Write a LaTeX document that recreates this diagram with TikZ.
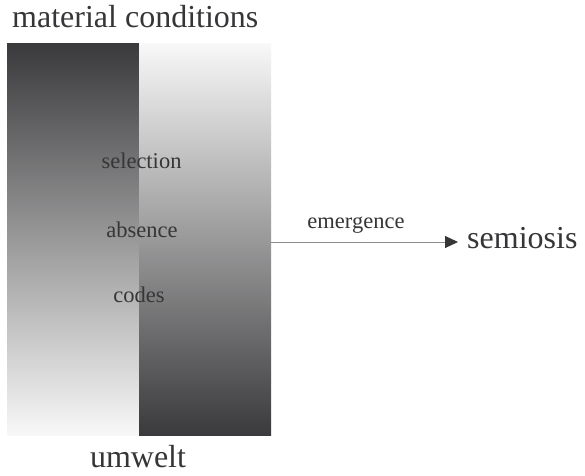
\documentclass[tikz,border=0pt]{standalone}
\usepackage{fontspec}
\setmainfont{Liberation Serif}
\usetikzlibrary{arrows.meta}
\definecolor{ink}{HTML}{363638}
\definecolor{deep}{HTML}{3A3A3C}
\definecolor{pale}{HTML}{F8F8F8}
\definecolor{wire}{HTML}{8C8C8C}
\tikzset{
  band/.style={draw=none, minimum width=132pt, minimum height=392pt, inner sep=0pt, anchor=north west},
  bigtext/.style={text=ink, font=\fontsize{32}{32}\selectfont, inner sep=0pt, anchor=base},
  smalltext/.style={text=ink, font=\fontsize{22.5}{22.5}\selectfont, inner sep=0pt, anchor=base},
  flow/.style={draw=wire, line width=1pt, -{Triangle[length=13pt,width=12pt,color=ink]}}
}
\begin{document}
\begin{tikzpicture}[x=1pt,y=-1pt]
  \useasboundingbox[fill=white] (0,0) rectangle (585,475);
  % the two opposed gradient bands
  \node[band, top color=deep, bottom color=pale] (matter) at (7,43) {};
  \node[band, top color=pale, bottom color=deep] (world) at (139,43) {};
  % headings
  \node[bigtext, anchor=base west] (mc) at (12,27) {material conditions};
  \node[bigtext] (um) at (138,467) {umwelt};
  % inner labels
  \node[smalltext] (sel) at (141.5,168) {selection};
  \node[smalltext] (abs) at (142,237) {absence};
  \node[smalltext] (cod) at (139,302) {codes};
  % outcome
  \node[bigtext, anchor=base west] (sem) at (467,248) {semiosis};
  \coordinate (start) at (world.east |- 0,242);
  \coordinate (tip) at (458,242);
  \draw[flow] (start) -- (tip);
  \node[smalltext] (em) at (356,228) {emergence};
\end{tikzpicture}
\end{document}
